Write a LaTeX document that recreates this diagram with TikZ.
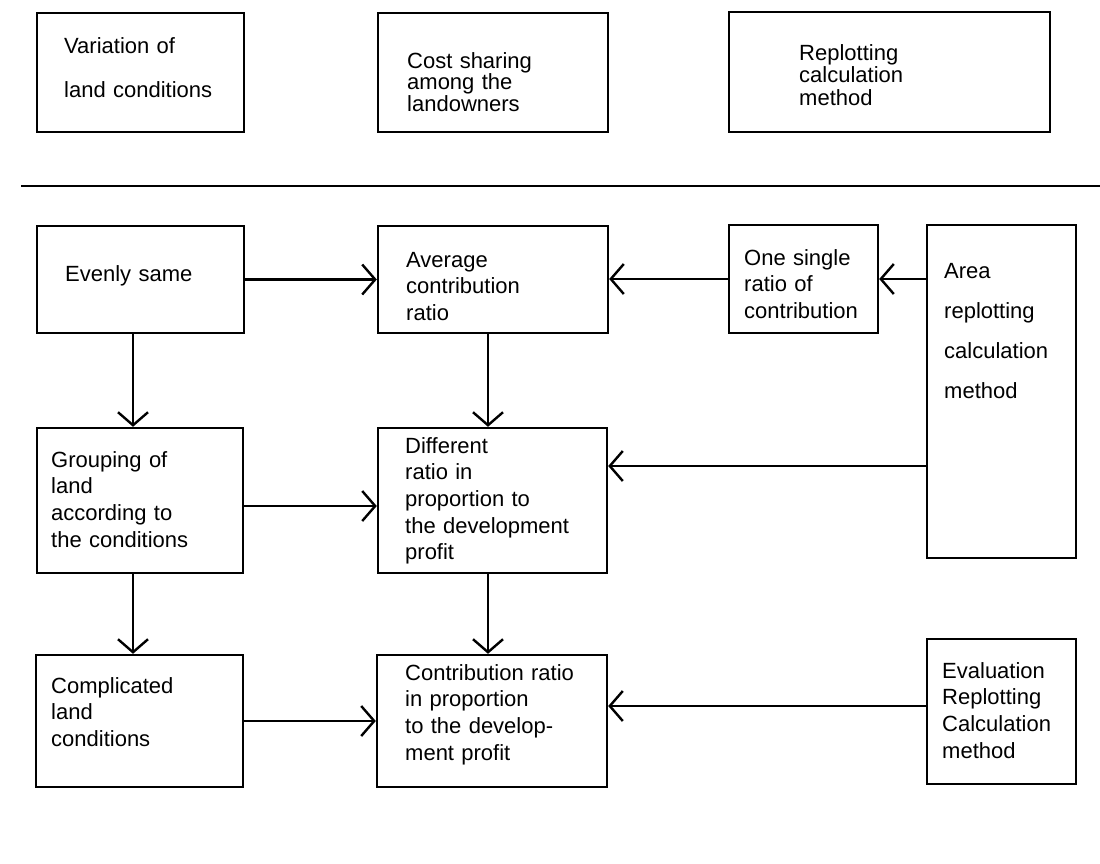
\documentclass[tikz,border=0pt]{standalone}
\usepackage{fontspec}
\setmainfont{Liberation Sans}
\usetikzlibrary{arrows.meta,calc}
\begin{document}
\begin{tikzpicture}[x=1pt,y=-1pt,
  box/.style={draw, rectangle, line width=2.4pt, inner sep=0pt},
  txt/.style={anchor=base west, inner sep=0pt, align=left, text width=320pt,
              font=\fontsize{22}{#1}\selectfont},
  arr/.style={line width=2.4pt, -{Straight Barb[length=13pt,width=30pt]}},
  rule/.style={line width=2.6pt}
]
% page
\fill[white] (0,0) rectangle (1100,863);
\useasboundingbox (0,0) rectangle (1100,863);

% heading boxes
\node[box, minimum width=207pt, minimum height=119pt] (h1) at (140.5,72.5) {};
\node[box, minimum width=230pt, minimum height=119pt] (h2) at (493,72.5) {};
\node[box, minimum width=321pt, minimum height=120pt] (h3) at (889.5,72) {};
\node[txt=44] (h1t) at (64,53) {Variation of\\land conditions};
\node[txt=20] (h2t) at (407,68) {Cost sharing\\among the\\landowners};
\node[txt=22.5] (h3t) at (799,60) {Replotting\\calculation\\method};

% separating rule
\draw[rule] (21,186) -- (1100,186);

% flow boxes
\node[box, minimum width=207pt, minimum height=107pt] (even) at (140.5,279.5) {};
\node[box, minimum width=230pt, minimum height=107pt] (avg)  at (493,279.5) {};
\node[box, minimum width=149pt, minimum height=108pt] (one)  at (803.5,279) {};
\node[box, minimum width=149pt, minimum height=333pt] (area) at (1001.5,391.5) {};
\node[box, minimum width=206pt, minimum height=145pt] (grp)  at (140,500.5) {};
\node[box, minimum width=229pt, minimum height=145pt] (diff) at (492.5,500.5) {};
\node[box, minimum width=207pt, minimum height=132pt] (comp) at (139.5,721) {};
\node[box, minimum width=230pt, minimum height=132pt] (contr) at (492,721) {};
\node[box, minimum width=149pt, minimum height=145pt] (eval) at (1001.5,711.5) {};

% box texts
\node[txt=27] (event) at (65,281) {Evenly same};
\node[txt=26.5] (avgt) at (406,267) {Average\\contribution\\ratio};
\node[txt=26.5] (onet) at (744,265) {One single\\ratio of\\contribution};
\node[txt=40] (areat) at (944,278) {Area\\replotting\\calculation\\method};
\node[txt=26.7] (grpt) at (51,467) {Grouping of\\land\\according to\\the conditions};
\node[txt=26.7] (difft) at (405,453) {Different\\ratio in\\proportion to\\the development\\profit};
\node[txt=26.7] (compt) at (51,693) {Complicated\\land\\conditions};
\node[txt=26.7] (contrt) at (405,680) {Contribution ratio\\in proportion\\to the develop-\\ment profit};
\node[txt=26.7] (evalt) at (942,678) {Evaluation\\Replotting\\Calculation\\method};

% attachment points
\coordinate (evenS) at ([xshift=-7.5pt]even.south);
\coordinate (avgS)  at ([xshift=-5pt]avg.south);
\coordinate (grpS)  at ([xshift=-7pt]grp.south);
\coordinate (diffS) at ([xshift=-4.5pt]diff.south);
\coordinate (grpE)  at ([yshift=-5.5pt]grp.east);
\coordinate (diffE) at ([yshift=34.5pt]diff.east);
\coordinate (contrE) at ([yshift=15pt]contr.east);

% connectors
\draw[arr] (even.east) -- (even.east -| avg.west);
\draw[arr] (one.west) -- (one.west -| avg.east);
\draw[arr] (one.east -| area.west) -- (one.east);
\draw[arr] (diffE -| area.west) -- (diffE);
\draw[arr] (grpE) -- (grpE -| diff.west);
\draw[arr] (evenS) -- (evenS |- grp.north);
\draw[arr] (avgS) -- (avgS |- diff.north);
\draw[arr] (grpS) -- (grpS |- comp.north);
\draw[arr] (diffS) -- (diffS |- contr.north);
\draw[arr] (comp.east) -- (comp.east -| contr.west);
\draw[arr] (contrE -| eval.west) -- (contrE);
\end{tikzpicture}
\end{document}
